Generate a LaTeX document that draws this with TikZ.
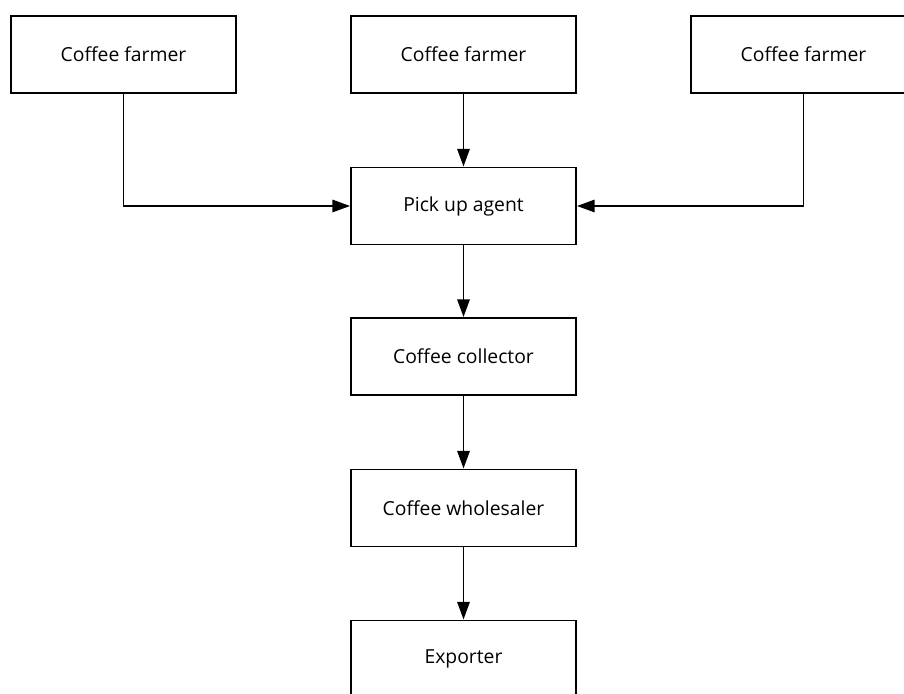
\documentclass[tikz,border=0pt]{standalone}
\usepackage{fontspec}
\setmainfont{Open Sans}
\usetikzlibrary{arrows.meta,positioning}

\begin{document}
\begin{tikzpicture}[
    actor/.style={draw, line width=1.1pt, fill=white, minimum width=4.5cm,
                  minimum height=1.54cm, align=center, font=\fontsize{11}{13}\selectfont},
    flow/.style={-{Triangle[length=10pt,width=7pt]}, line width=1.1pt},
    >=stealth
  ]
  \useasboundingbox (0,0) rectangle (18.08,-13.86);

  % farmers
  \node[actor] (F1) at (2.47, -1.09) {Coffee farmer};
  \node[actor] (F2) at (9.27, -1.09) {Coffee farmer};
  \node[actor] (F3) at (16.07, -1.09) {Coffee farmer};

  % chain
  \node[actor] (P) at (9.27, -4.12) {Pick up agent};
  \node[actor] (C) at (9.27, -7.13) {Coffee collector};
  \node[actor] (W) at (9.27, -10.16) {Coffee wholesaler};
  \node[actor] (E) at (9.27, -13.18) {Exporter};

  % arrows
  \draw[flow] (F1.south) |- (P.west);
  \draw[flow] (F2.south) -- (P.north);
  \draw[flow] (F3.south) |- (P.east);
  \draw[flow] (P.south) -- (C.north);
  \draw[flow] (C.south) -- (W.north);
  \draw[flow] (W.south) -- (E.north);
\end{tikzpicture}
\end{document}
